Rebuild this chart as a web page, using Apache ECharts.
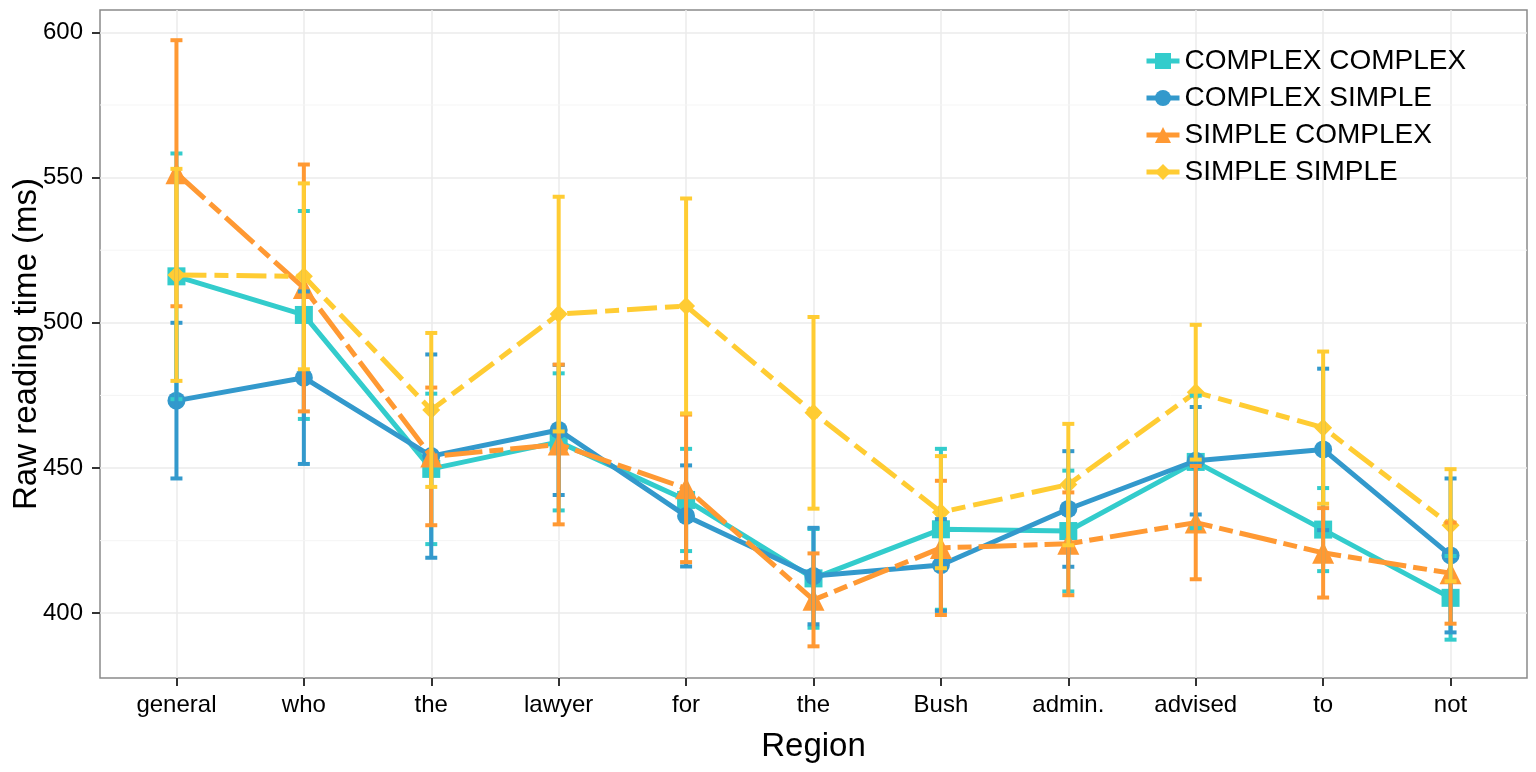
<!DOCTYPE html>
<html>
<head>
<meta charset="utf-8">
<title>Raw reading time by region</title>
<script src="https://cdn.jsdelivr.net/npm/echarts@6/dist/echarts.min.js"></script>
<style>
  html, body { margin: 0; padding: 0; background: #ffffff; }
  #chart { width: 1536px; height: 772px; }
</style>
</head>
<body>
<div id="chart"></div>
<script>
// Sentence regions along the x axis
const regions = ['general', 'who', 'the', 'lawyer', 'for', 'the', 'Bush', 'admin.', 'advised', 'to', 'not'];

// Condition names (legend order)
const conditions = ['COMPLEX COMPLEX', 'COMPLEX SIMPLE', 'SIMPLE COMPLEX', 'SIMPLE SIMPLE'];

// Mean raw reading time (ms) per region
const complexComplexMean = [516.0, 502.7, 449.7, 459.0, 439.0, 412.0, 428.9, 428.3, 452.1, 428.8, 405.3];
const complexSimpleMean  = [473.2, 481.1, 454.1, 463.1, 433.5, 412.8, 416.6, 435.9, 452.5, 456.4, 419.9];
const simpleComplexMean  = [551.5, 512.0, 454.0, 458.1, 443.0, 404.6, 422.5, 423.9, 431.2, 420.8, 413.8];
const simpleSimpleMean   = [516.5, 516.0, 470.0, 503.0, 505.8, 469.0, 434.8, 444.3, 476.1, 463.9, 430.3];

// Half-width of the error bars (ms)
const complexComplexErr = [42.3, 35.8, 25.9, 23.6, 17.6, 17.0, 27.7, 20.8, 22.8, 14.3, 14.4];
const complexSimpleErr  = [26.8, 29.7, 35.0, 22.4, 17.4, 16.6, 15.8, 19.9, 18.5, 27.8, 26.5];
const simpleComplexErr  = [45.8, 42.5, 23.7, 27.5, 25.4, 16.0, 23.1, 17.7, 19.5, 15.4, 17.4];
const simpleSimpleErr   = [36.5, 32.0, 26.5, 40.4, 37.0, 33.0, 19.3, 20.9, 23.2, 26.2, 19.3];

// Y axis tick values and light minor grid values
const yTicks = [400, 450, 500, 550, 600];
const yMinor = [425, 475, 525, 575];

const means = [complexComplexMean, complexSimpleMean, simpleComplexMean, simpleSimpleMean];
const errs = [complexComplexErr, complexSimpleErr, simpleComplexErr, simpleSimpleErr];

const colors = ['#33CCCC', '#3399CC', '#FF9933', '#FFCC33'];
const symbols = ['rect', 'circle', 'triangle', 'diamond'];
const symbolSizes = [18, 18, 22, 18];
const dashes = ['solid', 'solid', [38, 7, 14, 7], [30, 8, 14, 8]];

const FONT = "'Liberation Sans', Arial, Helvetica, sans-serif";
const xIndices = regions.map((_, i) => i);

// Minor horizontal grid lines drawn through the axis scales
const minorGrid = {
  type: 'custom',
  silent: true,
  z: 0,
  data: yMinor.map(v => [v]),
  renderItem: function (params, api) {
    const p1 = api.coord([-0.6, api.value(0)]);
    const p2 = api.coord([10.6, api.value(0)]);
    return {
      type: 'line',
      shape: { x1: p1[0], y1: p1[1], x2: p2[0], y2: p2[1] },
      style: { stroke: '#F5F5F5', lineWidth: 1 }
    };
  }
};

const lineSeries = conditions.map((name, k) => ({
  name: name,
  type: 'line',
  z: 3 + k,
  data: means[k].map((v, i) => [i, v]),
  symbol: symbols[k],
  symbolSize: symbolSizes[k],
  showSymbol: true,
  color: colors[k],
  itemStyle: { color: colors[k] },
  lineStyle: { color: colors[k], width: 5, type: dashes[k] },
  emphasis: { disabled: true },
  animation: false
}));

const errorSeries = conditions.map((name, k) => ({
  name: name,
  type: 'custom',
  z: 10 + k,
  data: means[k].map((v, i) => [i, v - errs[k][i], v + errs[k][i]]),
  renderItem: function (params, api) {
    const x = api.value(0);
    const lo = api.coord([x, api.value(1)]);
    const hi = api.coord([x, api.value(2)]);
    const cap = 6;
    const style = { stroke: colors[k], lineWidth: 4, fill: null };
    return {
      type: 'group',
      children: [
        { type: 'line', shape: { x1: lo[0], y1: lo[1], x2: hi[0], y2: hi[1] }, style: style },
        { type: 'line', shape: { x1: lo[0] - cap, y1: lo[1], x2: lo[0] + cap, y2: lo[1] }, style: style },
        { type: 'line', shape: { x1: hi[0] - cap, y1: hi[1], x2: hi[0] + cap, y2: hi[1] }, style: style }
      ]
    };
  },
  animation: false
}));

const chart = echarts.init(document.getElementById('chart'));
chart.setOption({
  animation: false,
  backgroundColor: '#ffffff',
  textStyle: { fontFamily: FONT },
  grid: {
    left: 100, right: 9, top: 10, bottom: 94,
    containLabel: false,
    outerBoundsMode: 'none',
    show: true, borderColor: '#8A8A8A', borderWidth: 1.5, backgroundColor: '#ffffff'
  },
  legend: {
    data: conditions,
    orient: 'vertical',
    left: 1144,
    top: 46,
    padding: 0,
    itemWidth: 33,
    itemHeight: 20,
    itemGap: 7,
    lineStyle: { type: 'solid', width: 5 },
    textStyle: { fontSize: 28, color: '#000000', fontFamily: FONT, lineHeight: 30 },
    selectedMode: false
  },
  xAxis: {
    type: 'value',
    min: -0.6,
    max: 10.6,
    name: 'Region',
    nameLocation: 'middle',
    nameGap: 52,
    nameMoveOverlap: false,
    nameTextStyle: { fontSize: 33, color: '#000000', fontFamily: FONT },
    axisLine: { show: false, onZero: false },
    axisTick: { show: true, length: 8, customValues: xIndices, lineStyle: { color: '#333333', width: 2 } },
    axisLabel: {
      customValues: xIndices,
      margin: 15,
      fontSize: 24,
      color: '#000000',
      fontFamily: FONT,
      formatter: v => regions[Math.round(v)]
    },
    splitLine: { show: true, lineStyle: { color: '#EBEBEB', width: 1.5 } }
  },
  yAxis: {
    type: 'value',
    min: 377.7,
    max: 607.7,
    name: 'Raw reading time (ms)',
    nameLocation: 'middle',
    nameGap: 57,
    nameMoveOverlap: false,
    nameTextStyle: { fontSize: 33, color: '#000000', fontFamily: FONT },
    axisLine: { show: false, onZero: false },
    axisTick: { show: true, length: 8, customValues: yTicks, lineStyle: { color: '#333333', width: 2 } },
    axisLabel: {
      customValues: yTicks,
      margin: 17,
      fontSize: 24,
      color: '#000000',
      fontFamily: FONT
    },
    splitLine: { show: true, lineStyle: { color: '#EBEBEB', width: 1.5 } }
  },
  series: [minorGrid].concat(lineSeries, errorSeries)
});
</script>
</body>
</html>
